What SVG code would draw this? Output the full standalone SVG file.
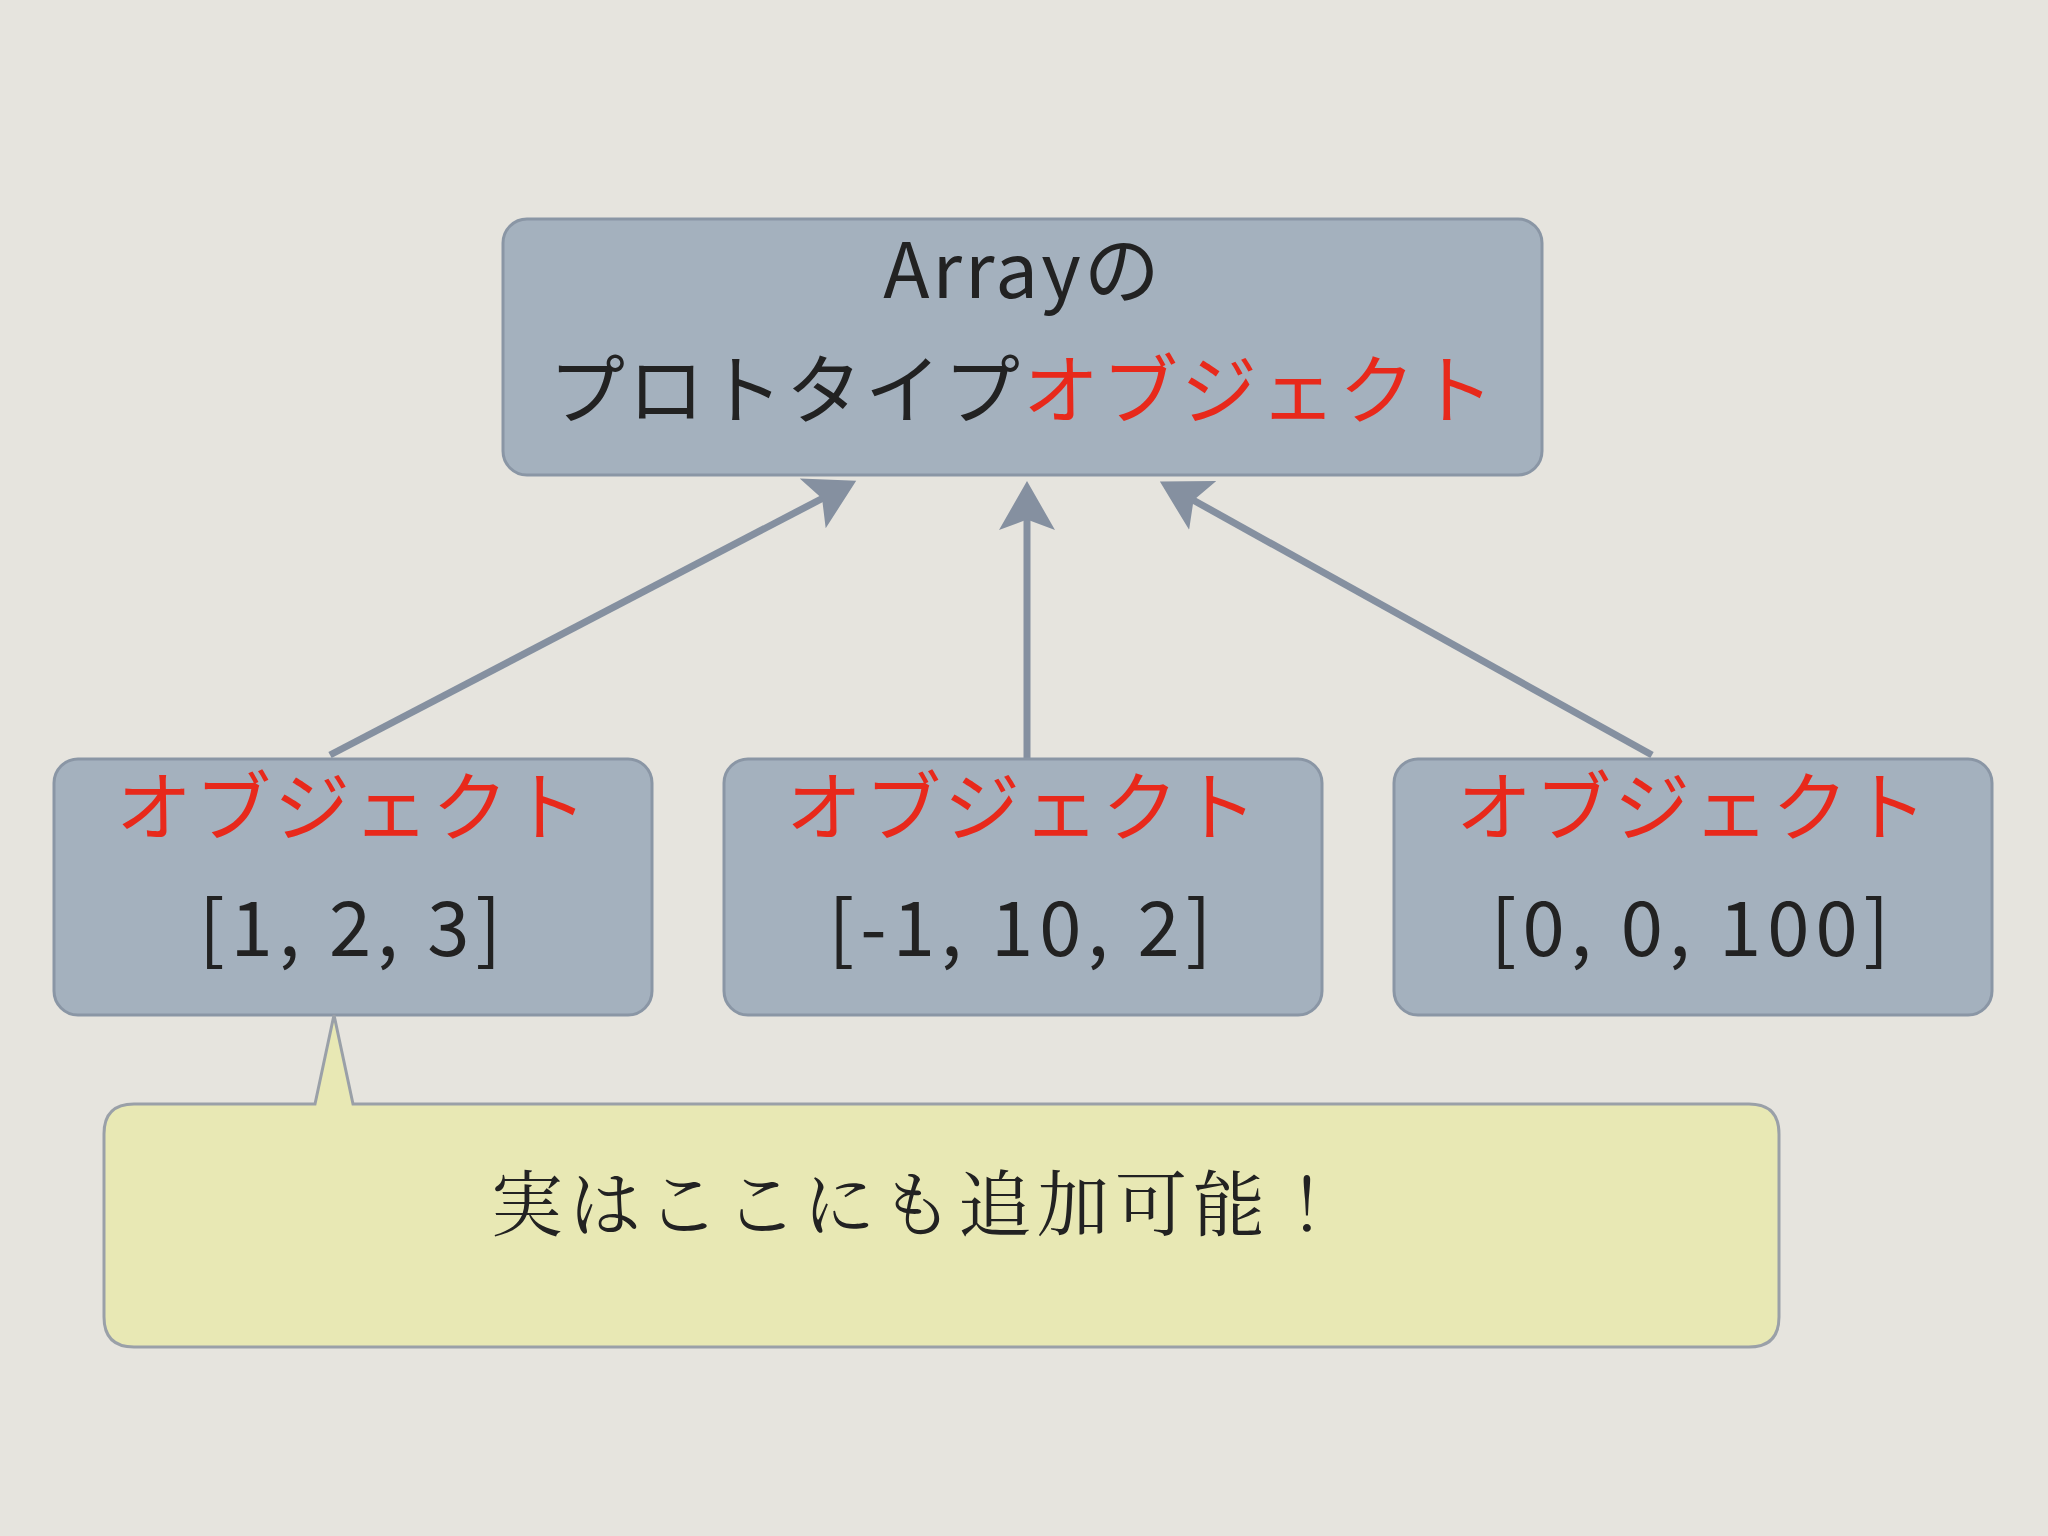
<svg xmlns="http://www.w3.org/2000/svg" width="2048" height="1536" viewBox="0 0 2048 1536">
<style>
.box{fill:#a4b1be;stroke:#8a96a5;stroke-width:3}
.t{font-family:"Noto Sans CJK JP","Liberation Sans",sans-serif;fill:#222;text-anchor:middle;font-size:76px}
.r{fill:#e8291b}
.c{stroke:#8590a0;stroke-width:7;fill:none}
</style>
<defs><marker id="a" markerWidth="8" markerHeight="8" refX="6" refY="4" orient="auto" markerUnits="strokeWidth"><path d="M0,0 L7,4 L0,8 L1.5,4 Z" fill="#8590a0"/></marker></defs>
<rect width="2048" height="1536" fill="#e6e4de"/>
<g id="connectors">
<line class="c" x1="330" y1="755" x2="850" y2="484" marker-end="url(#a)"/>
<line class="c" x1="1027" y1="761" x2="1027" y2="488" marker-end="url(#a)"/>
<line class="c" x1="1652" y1="755" x2="1166" y2="485" marker-end="url(#a)"/>
</g>
<g id="proto"><rect class="box" x="503" y="219" width="1039" height="256" rx="24"/>
<text class="t" x="1023" y="298" letter-spacing="3">Arrayの</text>
<text class="t" x="1023" y="418" letter-spacing="3">プロトタイプ<tspan class="r">オブジェクト</tspan></text></g>
<g id="obj1"><rect class="box" x="54" y="759" width="598" height="256" rx="24"/>
<text class="t r" x="353" y="835" letter-spacing="3">オブジェクト</text><text class="t" x="353" y="956" letter-spacing="6">[1, 2, 3]</text></g>
<g id="obj2"><rect class="box" x="724" y="759" width="598" height="256" rx="24"/>
<text class="t r" x="1023" y="835" letter-spacing="3">オブジェクト</text><text class="t" x="1023" y="956" letter-spacing="6">[-1, 10, 2]</text></g>
<g id="obj3"><rect class="box" x="1394" y="759" width="598" height="256" rx="24"/>
<text class="t r" x="1693" y="835" letter-spacing="3">オブジェクト</text><text class="t" x="1693" y="956" letter-spacing="6">[0, 0, 100]</text></g>
<g id="callout"><path d="M134,1104 H315 L334,1015 L353,1104 H1749 Q1779,1104 1779,1134 V1317 Q1779,1347 1749,1347 H134 Q104,1347 104,1317 V1134 Q104,1104 134,1104 Z" fill="#e8e8b4" stroke="#9aa0a8" stroke-width="3"/>
<text x="920" y="1230" letter-spacing="6" style="font-family:'Noto Serif CJK JP','Noto Sans CJK JP',serif;font-size:72px;fill:#222;text-anchor:middle">実はここにも追加可能！</text></g>
</svg>
